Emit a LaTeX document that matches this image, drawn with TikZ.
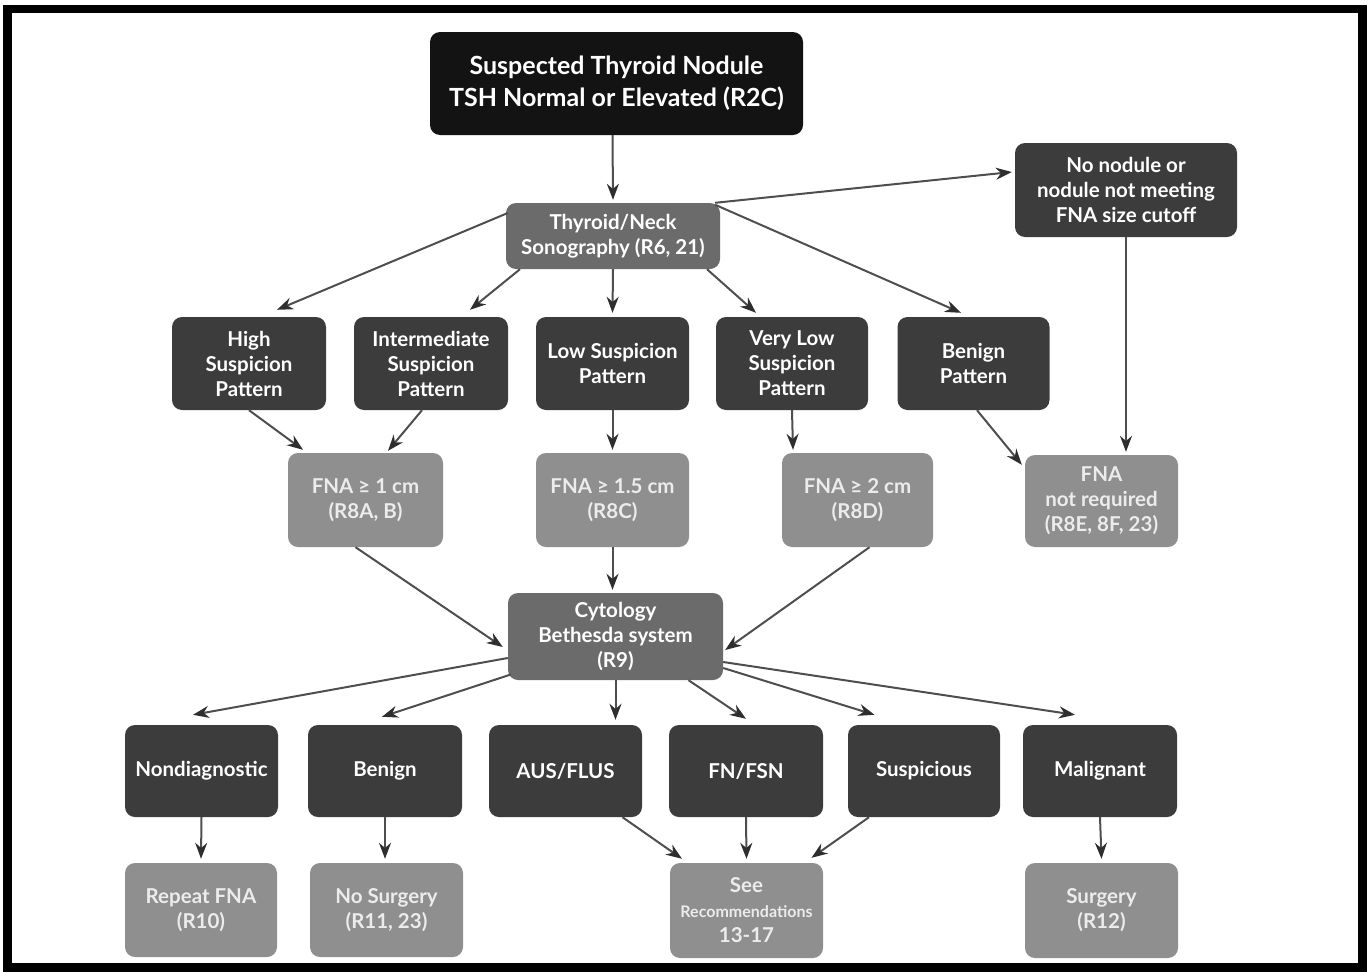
\documentclass[tikz,border=0pt]{standalone}
\usepackage{fontspec}
\setmainfont{Lato}
\usetikzlibrary{arrows.meta}
\definecolor{cblk}{HTML}{131313}
\definecolor{cdrk}{HTML}{3C3C3C}
\definecolor{cmid}{HTML}{6B6B6B}
\definecolor{clgt}{HTML}{8F8F8F}
\definecolor{ctxl}{HTML}{ECECEC}
\definecolor{cline}{HTML}{4E4E4E}
\definecolor{chead}{HTML}{2E2E2E}
\tikzset{
  box/.style={rounded corners=10pt, inner sep=2pt, align=center, text=white,
    font=\bfseries\fontsize{20.5}{25}\selectfont, minimum width=154pt, minimum height=93pt},
  blkbox/.style={box, fill=cblk},
  drkbox/.style={box, fill=cdrk},
  midbox/.style={box, fill=cmid},
  lgtbox/.style={box, fill=clgt, text=ctxl},
  arr/.style={draw=cline, line width=2pt, -{Stealth[length=16pt,width=12pt,color=chead]}}
}
\begin{document}
\begin{tikzpicture}[x=1pt,y=-1pt]
\useasboundingbox (0,0) rectangle (1369,972);
\draw[line width=8.5pt] (7.5,9) rectangle (1362.5,967.5);

% nodes
\node[blkbox, minimum width=373pt, minimum height=103pt, font=\bfseries\fontsize{25}{32}\selectfont] (top) at (616.5,83.5) {Suspected Thyroid Nodule\\TSH Normal or Elevated (R2C)};
\node[midbox, minimum width=214pt, minimum height=66pt] (sono) at (613,236) {Thyroid/Neck\\Sonography (R6, 21)};
\node[drkbox, minimum width=222pt, minimum height=94pt] (nonod) at (1126,190) {No nodule or\\nodule not meeting\\FNA size cutoff};

\node[drkbox] (high) at (249,363.5) {High\\Suspicion\\Pattern};
\node[drkbox] (inter) at (431,363.5) {Intermediate\\Suspicion\\Pattern};
\node[drkbox, minimum width=153pt] (low) at (612.5,363.5) {Low Suspicion\\Pattern};
\node[drkbox, minimum width=152pt] (vlow) at (792,363.5) {Very Low\\Suspicion\\Pattern};
\node[drkbox, minimum width=152pt] (benp) at (973.5,363.5) {Benign\\Pattern};

\node[lgtbox, minimum width=155pt, minimum height=94pt] (fna1) at (365.5,500) {FNA ≥ 1 cm\\(R8A, B)};
\node[lgtbox, minimum width=153pt, minimum height=94pt] (fna15) at (612.5,500) {FNA ≥ 1.5 cm\\(R8C)};
\node[lgtbox, minimum width=151pt, minimum height=94pt] (fna2) at (857.5,500) {FNA ≥ 2 cm\\(R8D)};
\node[lgtbox, minimum width=153pt, minimum height=92pt] (fnanr) at (1101.5,501) {FNA\\not required\\(R8E, 8F, 23)};

\node[midbox, minimum width=215pt, minimum height=87pt] (cyto) at (615.5,636.5) {Cytology\\Bethesda system\\(R9)};

\node[drkbox, minimum width=153pt, minimum height=92pt] (nondiag) at (201.5,771) {Nondiagnostic};
\node[drkbox, minimum height=92pt] (benign) at (385,771) {Benign};
\node[drkbox, minimum width=153pt, minimum height=92pt] (aus) at (565.5,771) {AUS/FLUS};
\node[drkbox, minimum height=92pt] (fn) at (746,771) {FN/FSN};
\node[drkbox, minimum width=152pt, minimum height=92pt] (susp) at (924,771) {Suspicious};
\node[drkbox, minimum height=92pt] (malig) at (1100,771) {Malignant};

\node[lgtbox, minimum width=152pt, minimum height=94pt] (repeat) at (201,910) {Repeat FNA\\(R10)};
\node[lgtbox, minimum width=153pt, minimum height=94pt] (nosurg) at (386.5,910) {No Surgery\\(R11, 23)};
\node[lgtbox, minimum width=153pt, minimum height=95pt] (see) at (746.5,910.5) {See\\{\fontsize{16}{26}\selectfont Recommendations}\\13-17};
\node[lgtbox, minimum width=153pt, minimum height=95pt] (surg) at (1101.5,910.5) {Surgery\\(R12)};

% connectors
\draw[arr] ([xshift=-4pt]top.south) -- ([yshift=3pt]sono.north);
\draw[arr] ([xshift=-5pt]sono.north east) -- ([xshift=-3pt,yshift=18pt]nonod.west);
\draw[arr] ([xshift=2pt,yshift=23pt]sono.west) -- ([xshift=28pt,yshift=7pt]high.north);
\draw[arr] ([xshift=-93pt]sono.south) -- ([xshift=39pt,yshift=7pt]inter.north);
\draw[arr] (sono.south) -- ([yshift=4pt]low.north);
\draw[arr] ([xshift=94pt]sono.south) -- ([xshift=-36pt,yshift=4pt]vlow.north);
\draw[arr] ([xshift=-5pt,yshift=-2pt]sono.north east) -- ([xshift=-12.5pt,yshift=4pt]benp.north);
\draw[arr] (nonod.south) -- ([xshift=24.5pt,yshift=3pt]fnanr.north);

\draw[arr] (high.south) -- ([xshift=-62.5pt,yshift=3pt]fna1.north);
\draw[arr] ([xshift=-9pt]inter.south) -- ([xshift=22.5pt,yshift=2pt]fna1.north);
\draw[arr] (low.south) -- ([yshift=3pt]fna15.north);
\draw[arr] (vlow.south) -- ([xshift=-64.5pt,yshift=3pt]fna2.north);
\draw[arr] ([xshift=3.5pt]benp.south) -- ([xshift=-3pt,yshift=-10pt]fnanr.north west);

\draw[arr] ([xshift=-10pt]fna1.south) -- ([xshift=-5pt,yshift=-10.5pt]cyto.west);
\draw[arr] (fna15.south) -- ([xshift=-3pt,yshift=3pt]cyto.north);
\draw[arr] ([xshift=12pt]fna2.south) -- ([xshift=2pt,yshift=-13.5pt]cyto.east);

\draw[arr] ([yshift=-21.5pt]cyto.west) -- ([xshift=-8.5pt,yshift=10pt]nondiag.north);
\draw[arr] ([xshift=3pt,yshift=-38pt]cyto.west) -- ([xshift=-3pt,yshift=8pt]benign.north);
\draw[arr] (cyto.south) -- ([xshift=50pt,yshift=5pt]aus.north);
\draw[arr] ([xshift=73pt]cyto.south) -- ([yshift=6pt]fn.north);
\draw[arr] ([yshift=-31.5pt]cyto.east) -- ([xshift=-49.5pt,yshift=10pt]susp.north);
\draw[arr] ([yshift=-25.5pt]cyto.east) -- ([xshift=-25pt,yshift=10pt]malig.north);

\draw[arr] (nondiag.south) -- ([yshift=4pt]repeat.north);
\draw[arr] (benign.south) -- ([xshift=-1.5pt,yshift=4pt]nosurg.north);
\draw[arr] ([xshift=57pt]aus.south) -- ([xshift=-64.5pt,yshift=4pt]see.north);
\draw[arr] (fn.south) -- ([yshift=4pt]see.north);
\draw[arr] ([xshift=-55pt]susp.south) -- ([xshift=65pt,yshift=5pt]see.north);
\draw[arr] (malig.south) -- ([yshift=4pt]surg.north);
\end{tikzpicture}
\end{document}
